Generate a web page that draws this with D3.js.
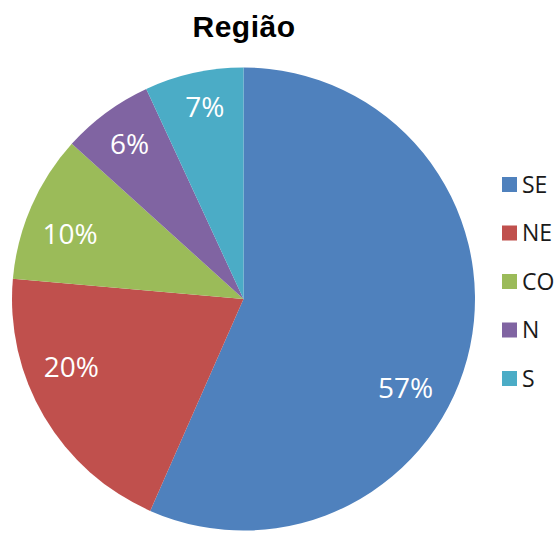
<!DOCTYPE html>
<html>
<head>
<meta charset="utf-8">
<script src="https://cdn.jsdelivr.net/npm/d3@7"></script>
<style>
  body { margin: 0; background: #fff; }
</style>
</head>
<body>
<svg id="chart"></svg>
<script>
const categories = ["SE", "NE", "CO", "N", "S"];
const values = [56.6, 19.8, 10.3, 6.4, 6.9];
const colors = ["#4F81BD", "#C0504D", "#9BBB59", "#8064A2", "#4BACC6"];

// label placement (Excel "best fit"): angle nudge in degrees, radius as fraction
const labelNudge = [17, 9, -3, 0, 1];
const labelRadius = [0.80, 0.80, 0.80, 0.83, 0.845];

const width = 557, height = 534;
const cx = 243.5, cy = 299, radius = 231.5;

const svg = d3.select("#chart")
    .attr("width", width)
    .attr("height", height);

svg.append("text")
    .attr("x", 244)
    .attr("y", 37)
    .attr("text-anchor", "middle")
    .style("font-family", "Liberation Sans, Arial, sans-serif")
    .style("font-weight", "bold")
    .style("font-size", "30px")
    .style("letter-spacing", "0.5px")
    .text("Região");

const data = categories.map((c, i) => ({ cat: c, value: values[i], color: colors[i] }));
const total = d3.sum(values);
const fmt = d3.format(".0%");

const pie = d3.pie().value(d => d.value).sort(null);
const arc = d3.arc().innerRadius(0).outerRadius(radius);

const g = svg.append("g").attr("transform", `translate(${cx},${cy})`);
const arcs = pie(data);

g.selectAll("path")
    .data(arcs)
    .join("path")
    .attr("d", arc)
    .attr("fill", d => d.data.color);

function labelPos(d, i) {
    const a = (d.startAngle + d.endAngle) / 2 + labelNudge[i] * Math.PI / 180;
    const r = radius * labelRadius[i];
    return [r * Math.sin(a), -r * Math.cos(a)];
}

g.selectAll("text.lbl")
    .data(arcs)
    .join("text")
    .attr("class", "lbl")
    .attr("transform", (d, i) => `translate(${labelPos(d, i)})`)
    .attr("text-anchor", "middle")
    .attr("dy", "0.357em")
    .style("font-family", "Open Sans, sans-serif")
    .style("font-size", "28px")
    .style("fill", "#fff")
    .text(d => fmt(d.data.value / total));

// legend
const legend = svg.append("g").attr("transform", "translate(502,184.5)");
const item = legend.selectAll("g")
    .data(data)
    .join("g")
    .attr("transform", (d, i) => `translate(0,${i * 48.5})`);

item.append("rect")
    .attr("x", 0)
    .attr("y", -7.5)
    .attr("width", 15)
    .attr("height", 15)
    .attr("fill", d => d.color);

item.append("text")
    .attr("x", 20)
    .attr("dy", "0.357em")
    .style("font-family", "Open Sans, sans-serif")
    .style("font-size", "23px")
    .style("fill", "#1a1a1a")
    .text(d => d.cat);
</script>
</body>
</html>
